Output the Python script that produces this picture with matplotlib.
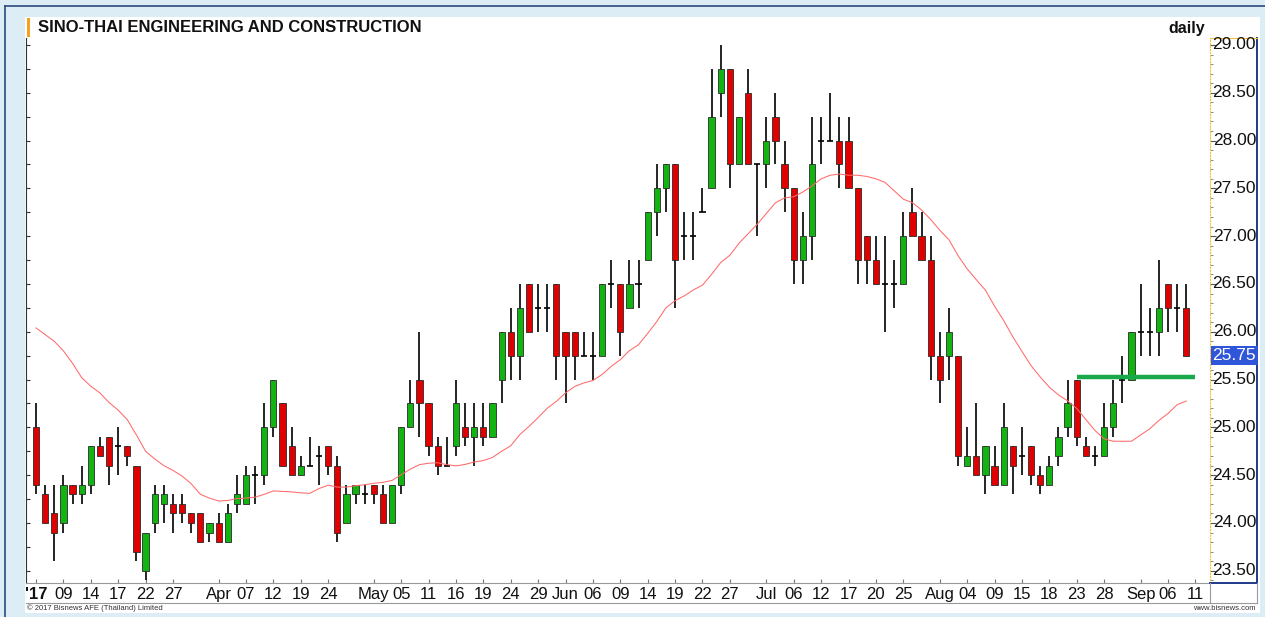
import numpy as np
import pandas as pd
import matplotlib
matplotlib.use("Agg")
import matplotlib.pyplot as plt
from matplotlib.patches import Rectangle
from matplotlib.lines import Line2D
import matplotlib.transforms as mtransforms

plt.rcParams['font.family'] = ['Liberation Sans', 'DejaVu Sans']

# ---------------- data ----------------
title = "SINO-THAI ENGINEERING AND CONSTRUCTION"
holidays = ['2017-04-06', '2017-04-13', '2017-04-14', '2017-05-01', '2017-05-10',
            '2017-07-10', '2017-07-28', '2017-08-14']
start_date = '2017-03-06'
end_date = '2017-09-11'

opens = [25.0, 24.3, 24.1, 24.0, 24.4, 24.3, 24.4, 24.8, 24.9, 24.8,
         24.8, 24.6, 23.5, 24.0, 24.2, 24.2, 24.2, 24.1, 24.1, 23.9,
         24.0, 23.8, 24.2, 24.2, 24.5, 24.5, 25.0, 25.25, 24.8, 24.5,
         24.6, 24.7, 24.8, 24.6, 24.0, 24.3, 24.3, 24.4, 24.3, 24.0,
         24.4, 25.0, 25.5, 25.25, 24.8, 24.6, 24.8, 25.0, 24.9, 25.0,
         24.9, 25.5, 26.0, 25.75, 26.5, 26.25, 26.25, 26.5, 26.0, 26.0,
         25.75, 25.75, 25.75, 26.5, 26.5, 26.25, 26.5, 26.75, 27.25, 27.5,
         27.75, 27.0, 27.0, 27.25, 27.5, 28.5, 28.75, 27.75, 28.5, 27.75,
         27.75, 28.25, 27.75, 27.5, 26.75, 27.0, 28.0, 28.0, 28.0, 28.0,
         27.5, 27.0, 26.75, 26.5, 26.5, 26.5, 27.25, 27.0, 26.75, 25.75,
         25.75, 25.75, 24.6, 24.7, 24.5, 24.6, 24.4, 24.8, 24.7, 24.8,
         24.5, 24.4, 24.7, 25.0, 25.5, 24.8, 24.7, 24.7, 25.0, 25.5,
         25.5, 26.0, 26.0, 26.0, 26.5, 26.25, 26.25]
highs = [25.25, 24.4, 24.4, 24.5, 24.4, 24.6, 24.8, 24.9, 24.9, 25.0,
         24.8, 24.6, 23.9, 24.4, 24.4, 24.3, 24.3, 24.1, 24.1, 24.0,
         24.1, 24.2, 24.5, 24.6, 24.6, 25.25, 25.5, 25.25, 25.0, 24.7,
         24.9, 24.8, 24.8, 24.7, 24.4, 24.4, 24.4, 24.4, 24.4, 24.4,
         25.0, 25.5, 26.0, 25.25, 24.9, 24.9, 25.5, 25.25, 25.25, 25.25,
         25.25, 26.0, 26.25, 26.5, 26.5, 26.5, 26.5, 26.5, 26.0, 26.0,
         26.0, 26.0, 26.5, 26.75, 26.5, 26.75, 26.75, 27.25, 27.75, 27.75,
         27.75, 27.25, 27.25, 27.5, 28.75, 29.0, 28.75, 28.25, 28.75, 27.75,
         28.25, 28.5, 28.0, 27.5, 27.25, 28.25, 28.25, 28.5, 28.25, 28.25,
         27.5, 27.0, 27.0, 27.0, 26.75, 27.25, 27.5, 27.25, 27.0, 26.0,
         26.25, 25.75, 25.0, 25.25, 24.8, 24.8, 25.25, 24.8, 25.0, 24.8,
         24.6, 24.7, 25.0, 25.5, 25.5, 24.9, 24.8, 25.25, 25.5, 25.75,
         26.0, 26.5, 26.25, 26.75, 26.5, 26.5, 26.5]
lows = [24.3, 24.0, 23.6, 23.9, 24.2, 24.2, 24.3, 24.7, 24.4, 24.5,
        24.6, 23.6, 23.4, 23.9, 24.0, 23.9, 24.0, 23.9, 23.8, 23.8,
        23.8, 23.8, 24.1, 24.2, 24.2, 24.4, 24.9, 24.6, 24.5, 24.5,
        24.6, 24.4, 24.5, 23.8, 24.0, 24.2, 24.2, 24.2, 24.0, 24.0,
        24.3, 25.0, 24.9, 24.7, 24.5, 24.6, 24.7, 24.8, 24.6, 24.8,
        24.9, 25.25, 25.5, 25.5, 26.0, 26.0, 26.0, 25.5, 25.25, 25.5,
        25.75, 25.5, 25.75, 26.25, 25.75, 26.25, 26.25, 26.75, 27.0, 27.25,
        26.25, 26.75, 26.75, 27.25, 27.5, 28.25, 27.5, 27.75, 27.75, 27.0,
        27.5, 27.75, 27.25, 26.5, 26.5, 26.75, 27.75, 28.0, 27.5, 27.5,
        26.5, 26.5, 26.5, 26.0, 26.25, 26.5, 27.0, 26.75, 25.5, 25.25,
        25.5, 24.6, 24.6, 24.5, 24.3, 24.4, 24.4, 24.3, 24.5, 24.4,
        24.3, 24.4, 24.6, 24.9, 24.8, 24.7, 24.6, 24.7, 24.9, 25.25,
        25.5, 25.75, 25.75, 25.75, 26.0, 26.0, 25.75]
closes = [24.4, 24.0, 23.9, 24.4, 24.3, 24.4, 24.8, 24.7, 24.6, 24.8,
          24.7, 23.7, 23.9, 24.3, 24.3, 24.1, 24.1, 24.0, 23.8, 24.0,
          23.8, 24.1, 24.3, 24.5, 24.5, 25.0, 25.5, 24.6, 24.5, 24.6,
          24.6, 24.7, 24.6, 23.9, 24.3, 24.4, 24.3, 24.3, 24.0, 24.4,
          25.0, 25.25, 25.25, 24.8, 24.6, 24.6, 25.25, 24.9, 25.0, 24.9,
          25.25, 26.0, 25.75, 26.25, 26.0, 26.25, 26.25, 25.75, 25.75, 25.75,
          25.75, 25.75, 26.5, 26.5, 26.0, 26.5, 26.5, 27.25, 27.5, 27.75,
          26.75, 27.0, 27.0, 27.25, 28.25, 28.75, 27.75, 28.25, 27.75, 27.75,
          28.0, 28.0, 27.5, 26.75, 27.0, 27.75, 28.0, 28.0, 27.75, 27.5,
          26.75, 26.75, 26.5, 26.5, 26.5, 27.0, 27.0, 26.75, 25.75, 25.5,
          26.0, 24.7, 24.7, 24.5, 24.8, 24.4, 25.0, 24.6, 24.7, 24.5,
          24.4, 24.6, 24.9, 25.25, 24.9, 24.7, 24.7, 25.0, 25.25, 25.5,
          26.0, 26.0, 26.0, 26.25, 26.25, 26.25, 25.75]

# 20-day moving average: first values (need earlier history)
ma_period = 20
ma_head = [26.04, 25.97, 25.90, 25.80, 25.67, 25.52, 25.43, 25.36, 25.26, 25.18,
           25.08, 24.92, 24.75, 24.67, 24.60, 24.55, 24.49, 24.41, 24.30]

tick_dates = ['2017-03-06', '2017-03-09', '2017-03-14', '2017-03-17', '2017-03-22', '2017-03-27',
              '2017-04-03', '2017-04-07', '2017-04-12', '2017-04-19', '2017-04-24',
              '2017-05-02', '2017-05-05', '2017-05-11', '2017-05-16', '2017-05-19', '2017-05-24', '2017-05-29',
              '2017-06-01', '2017-06-06', '2017-06-09', '2017-06-14', '2017-06-19', '2017-06-22', '2017-06-27',
              '2017-07-03', '2017-07-06', '2017-07-12', '2017-07-17', '2017-07-20', '2017-07-25',
              '2017-08-01', '2017-08-04', '2017-08-09', '2017-08-15', '2017-08-18', '2017-08-23', '2017-08-28',
              '2017-09-01', '2017-09-06', '2017-09-11']
tick_labels = ["'17", '09', '14', '17', '22', '27',
               'Apr', '07', '12', '19', '24',
               'May', '05', '11', '16', '19', '24', '29',
               'Jun', '06', '09', '14', '19', '22', '27',
               'Jul', '06', '12', '17', '20', '25',
               'Aug', '04', '09', '15', '18', '23', '28',
               'Sep', '06', '11']

price_ticks = [23.5, 24.0, 24.5, 25.0, 25.5, 26.0, 26.5, 27.0, 27.5, 28.0, 28.5, 29.0]
level_price = 25.53
level_start, level_end = '2017-08-23', '2017-09-11'
last_price = 25.75

# ---------------- derived ----------------
dates = pd.bdate_range(start_date, end_date, freq='C', holidays=holidays)
n = len(opens)
x = np.arange(n)
o = np.array(opens); h = np.array(highs); l = np.array(lows); c = np.array(closes)
ma = pd.Series(c).rolling(ma_period).mean().to_numpy()
ma[:len(ma_head)] = ma_head
pos = {d: i for i, d in enumerate(dates)}
tick_pos = [pos[pd.Timestamp(d)] for d in tick_dates]

W, H = 1265, 617
def fx(px): return px / W
def fy(py): return 1 - py / H

fig = plt.figure(figsize=(W / 100, H / 100), dpi=100)
fig.patch.set_facecolor('#dcedf5')

# white panel and borders
fig.add_artist(Rectangle((fx(25), fy(613)), (1260 - 25) / W, (613 - 17) / H,
                         transform=fig.transFigure, facecolor='white', edgecolor='none', zorder=0))
fig.add_artist(Line2D([fx(5), fx(5)], [0, fy(6)], color='#2b4c7e', lw=1.2, transform=fig.transFigure))
fig.add_artist(Line2D([fx(5), 1], [fy(6), fy(6)], color='#2b4c7e', lw=1.2, transform=fig.transFigure))
fig.add_artist(Rectangle((fx(27), fy(37)), 3 / W, 19 / H, transform=fig.transFigure,
                         facecolor='#f5a020', edgecolor='none'))

fig.text(fx(38), fy(27), title, fontsize=12, fontweight='bold', va='center', ha='left', color='#111111')
fig.text(fx(1205), fy(28), 'daily', fontsize=11.5, fontweight='bold', va='center', ha='right', color='#111111')

# main axes
ax = fig.add_axes([fx(26), fy(583), (1210 - 26) / W, (583 - 38) / H])
ax.set_facecolor('none')
ylo, yhi = 23.372, 29.073
ax.set_ylim(ylo, yhi)
ax.set_xlim(-1.1, 128.6)
for s in ['top', 'right']:
    ax.spines[s].set_visible(False)
ax.spines['left'].set_color('#333333')
ax.spines['bottom'].set_color('#9a9a9a')

ax.set_yticks(np.arange(23.5, 29.01, 0.25))
ax.tick_params(axis='y', direction='in', length=3, width=0.8, labelleft=False, color='#333333')
ax.set_xticks(tick_pos)
ax.set_xticklabels(tick_labels, fontsize=12, color='#111111')
ax.get_xticklabels()[0].set_fontweight('bold')
ax.tick_params(axis='x', direction='in', length=3, width=0.8, pad=3, color='#777777')

# wicks
ax.vlines(x, l, h, color='black', lw=1.2, zorder=2)
# bodies
up = c > o
down = c < o
doji = c == o
bw = 0.68
ax.bar(x[up], (c - o)[up], bottom=o[up], width=bw, color='#12b412', edgecolor='#2a2a2a', lw=0.6, zorder=3)
ax.bar(x[down], (o - c)[down], bottom=c[down], width=bw, color='#e00000', edgecolor='#2a2a2a', lw=0.6, zorder=3)
ax.hlines(c[doji], x[doji] - 0.34, x[doji] + 0.34, color='black', lw=1.2, zorder=3)

# moving average
ax.plot(x, ma, color='#ff6a6a', lw=0.75, zorder=4)

# support level
ax.hlines(level_price, pos[pd.Timestamp(level_start)], pos[pd.Timestamp(level_end)],
          color='#19a84a', lw=3.2, zorder=5)

# price axis
axp = fig.add_axes([fx(1210), fy(583), (1257 - 1210) / W, (583 - 38) / H])
axp.set_ylim(ylo, yhi)
axp.set_xlim(0, 1)
axp.set_xticks([])
axp.spines['left'].set_color('#f0c040')
axp.spines['left'].set_linestyle(':')
axp.spines['top'].set_color('#f0c040')
axp.spines['right'].set_color('#1f3a8a')
axp.spines['right'].set_linewidth(1.4)
axp.spines['bottom'].set_color('#1f3a8a')
axp.spines['bottom'].set_linewidth(1.4)
axp.set_yticks(price_ticks)
axp.set_yticks(np.arange(23.4, 29.05, 0.1), minor=True)
axp.tick_params(axis='y', which='major', direction='in', length=4, width=0.8, labelleft=False, color='#555555')
axp.tick_params(axis='y', which='minor', direction='in', length=2, width=0.6, color='#777777')
trans = mtransforms.blended_transform_factory(axp.transAxes, axp.transData)
for v in price_ticks:
    axp.text(0.98, v, f'{v:.2f}', transform=trans, ha='right', va='center', fontsize=12.5, color='#111111')
axp.text(0.98, last_price, f'{last_price:.2f}', transform=trans, ha='right', va='center', fontsize=12.5,
         color='white', zorder=6,
         bbox=dict(boxstyle='square,pad=0.1', facecolor='#2f56d8', edgecolor='none'))

# x-axis strip borders
fig.add_artist(Line2D([fx(26), fx(1257)], [fy(603), fy(603)], color='#9a9a9a', lw=0.8, transform=fig.transFigure))
fig.add_artist(Line2D([fx(1210), fx(1210)], [fy(583), fy(603)], color='#9a9a9a', lw=0.8, transform=fig.transFigure))
fig.add_artist(Line2D([fx(1257), fx(1257)], [fy(583), fy(603)], color='#9a9a9a', lw=0.8, transform=fig.transFigure))

fig.text(fx(27), fy(608.5), '\u00a9 2017 Bisnews AFE (Thailand) Limited', fontsize=5.5, va='center', ha='left', color='#333333')
fig.text(fx(1256), fy(609), 'www.bisnews.com', fontsize=5.5, va='center', ha='right', color='#333333')

fig.savefig('out.png', dpi=100, facecolor=fig.get_facecolor())
